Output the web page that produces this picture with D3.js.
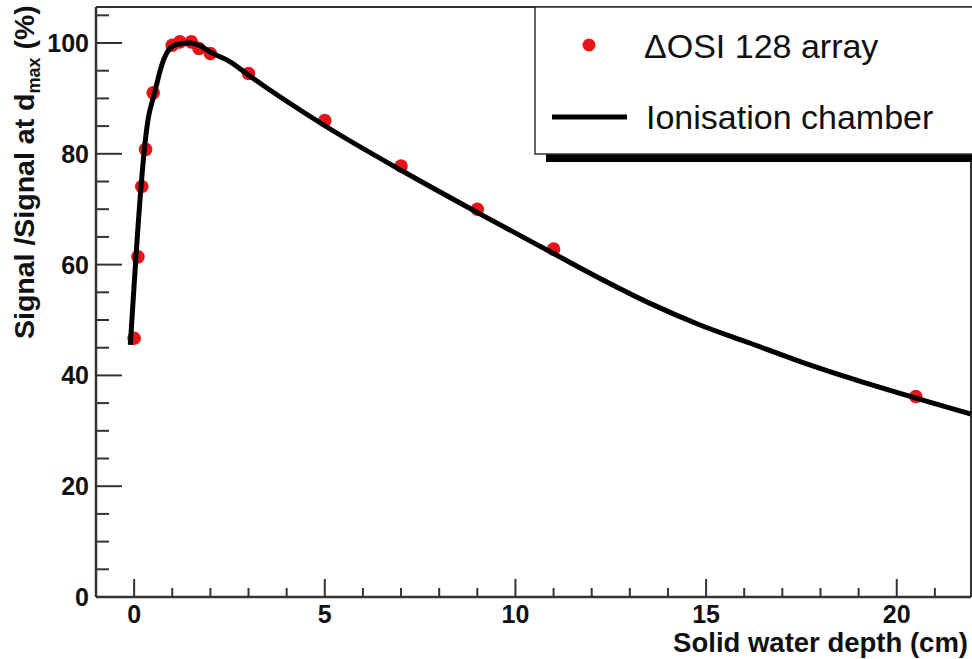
<!DOCTYPE html>
<html><head><meta charset="utf-8">
<script src="https://cdn.jsdelivr.net/npm/d3@7"></script>
<style>body{margin:0;background:#fff}svg{display:block}</style>
</head><body>
<svg id="c" width="972" height="659"></svg>
<script>
// Data
const dotDepth = [0.0, 0.1, 0.2, 0.3, 0.5, 1.0, 1.2, 1.5, 1.7, 2.0, 3.0, 5.0, 7.0, 9.0, 11.0, 20.5];
const dotSignal = [46.7, 61.4, 74.1, 80.8, 91.0, 99.6, 100.2, 100.2, 99.0, 98.1, 94.5, 86.0, 77.8, 70.0, 62.8, 36.2];
const lineDepth = [-0.1, 0.37, 0.51, 0.77, 0.94, 1.16, 1.47, 1.73, 1.99, 2.52, 3.04, 4.97, 7.06, 9.03, 11.0, 12.22, 13.53, 14.84, 16.16, 17.47, 18.78, 20.5, 21.95];
const lineSignal = [45.5, 86.4, 90.3, 96.9, 99.0, 99.8, 100.0, 99.5, 98.4, 96.6, 94.0, 85.2, 76.8, 69.3, 62.0, 57.5, 53.0, 49.1, 45.8, 42.5, 39.5, 35.9, 33.0];
const xTicks = [0, 5, 10, 15, 20];
const yTicks = [0, 20, 40, 60, 80, 100];
const legendLabels = ["\u0394OSI 128 array", "Ionisation chamber"];

const svg = d3.select("#c");
const x = d3.scaleLinear().domain([-1, 22]).range([96, 973]);
const y = d3.scaleLinear().domain([0, 106.5]).range([597, 7]);
const axisCol = "#333";

// frame (top & right)
svg.append("path").attr("d", `M96,7H971V597`).attr("fill","none").attr("stroke",axisCol).attr("stroke-width",2);

// y axis
const yAxisG = svg.append("g").attr("transform","translate(96,0)");
yAxisG.append("line").attr("x1",0).attr("x2",0).attr("y1",y(0)).attr("y2",7).attr("stroke",axisCol).attr("stroke-width",2.5);
const yMinor = d3.range(0, 106, 5);
yAxisG.selectAll(".ym").data(yMinor).join("line")
  .attr("x1",0).attr("x2",d => d%20===0 ? 26 : 13)
  .attr("y1",d=>y(d)).attr("y2",d=>y(d)).attr("stroke",axisCol).attr("stroke-width",2);
svg.selectAll(".yl").data(yTicks).join("text")
  .attr("x",89).attr("y",d=>y(d)).attr("dy","0.36em").attr("text-anchor","end")
  .attr("font-family","Liberation Sans, Arial, sans-serif").attr("font-weight","bold").attr("font-size",25)
  .attr("fill","#111").text(d=>d);

// x axis
svg.append("line").attr("x1",96).attr("x2",971).attr("y1",597).attr("y2",597).attr("stroke",axisCol).attr("stroke-width",2.5);
const xMinor = d3.range(0, 22, 1);
svg.selectAll(".xm").data(xMinor).join("line")
  .attr("x1",d=>x(d)).attr("x2",d=>x(d)).attr("y1",597).attr("y2",d=> d%5===0 ? 579 : 588)
  .attr("stroke",axisCol).attr("stroke-width",2);
svg.selectAll(".xl").data(xTicks).join("text")
  .attr("x",d=>x(d)).attr("y",623).attr("text-anchor","middle")
  .attr("font-family","Liberation Sans, Arial, sans-serif").attr("font-weight","bold").attr("font-size",25)
  .attr("fill","#111").text(d=>d);

// axis titles
svg.append("text").attr("x",968).attr("y",652).attr("text-anchor","end")
  .attr("font-family","Liberation Sans, Arial, sans-serif").attr("font-weight","bold").attr("font-size",27.5)
  .attr("fill","#111").text("Solid water depth (cm)");
const yt = svg.append("text").attr("transform","translate(34,339) rotate(-90)")
  .attr("font-family","Liberation Sans, Arial, sans-serif").attr("font-weight","bold").attr("font-size",28.5)
  .attr("fill","#111");
yt.append("tspan").text("Signal /Signal at d");
yt.append("tspan").attr("font-size",18).attr("dy",6).text("max");
yt.append("tspan").attr("dy",-6).text(" (%)");

// dots
const dots = dotDepth.map((d,i)=>({d, v: dotSignal[i]}));
svg.selectAll(".dot").data(dots).join("circle")
  .attr("cx",p=>x(p.d)).attr("cy",p=>y(p.v)).attr("r",6.8).attr("fill","#e8141a");

// line
const lineData = lineDepth.map((d,i)=>({d, v: lineSignal[i]}));
svg.append("path").datum(lineData)
  .attr("d", d3.line().x(p=>x(p.d)).y(p=>y(p.v)).curve(d3.curveMonotoneX))
  .attr("fill","none").attr("stroke","#000").attr("stroke-width",5).attr("stroke-linejoin","round");

// legend
svg.append("rect").attr("x",546).attr("y",15).attr("width",450).attr("height",147).attr("fill","#000");
svg.append("rect").attr("x",535).attr("y",7).attr("width",450).attr("height",147).attr("fill","#fff").attr("stroke",axisCol).attr("stroke-width",1.5);
svg.append("circle").attr("cx",589).attr("cy",45).attr("r",6.5).attr("fill","#e8141a");
svg.append("line").attr("x1",552).attr("x2",627).attr("y1",117).attr("y2",117).attr("stroke","#000").attr("stroke-width",5);
svg.selectAll(".lt").data(legendLabels).join("text")
  .attr("x",(d,i)=> i===0 ? 644 : 646).attr("y",(d,i)=> i===0 ? 58 : 129)
  .attr("font-family","Liberation Sans, Arial, sans-serif").attr("font-size",34)
  .attr("fill","#111").text(d=>d);
</script>
</body></html>
